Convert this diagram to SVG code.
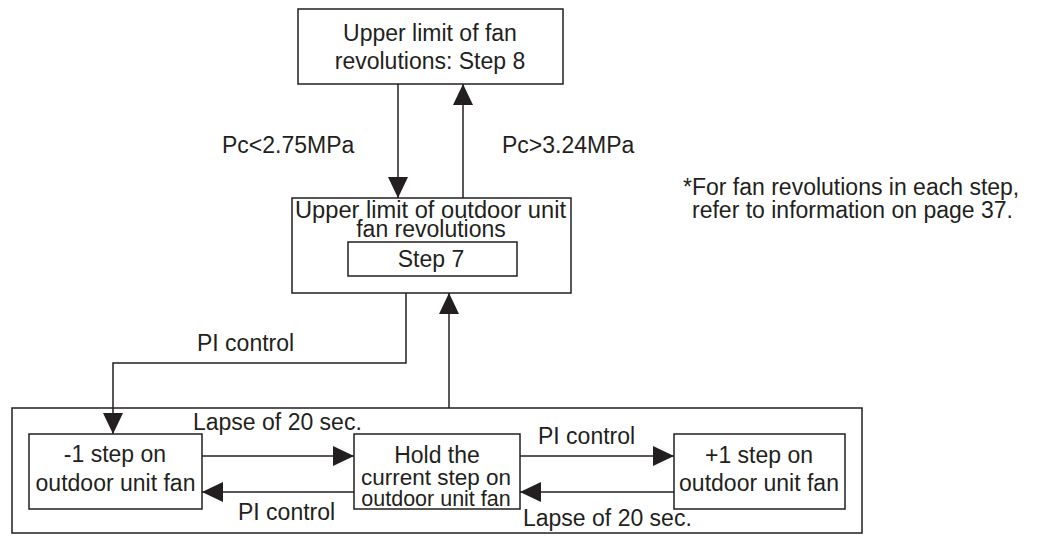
<svg xmlns="http://www.w3.org/2000/svg" width="1043" height="536" viewBox="0 0 1043 536">
<style>
.box{fill:#fff;stroke:#231f20;stroke-width:1.5}
.ln{fill:none;stroke:#231f20;stroke-width:1.5}
text{font-family:"Liberation Sans",Arial,sans-serif;font-size:23px;fill:#231f20}
.c{text-anchor:middle}
</style>
<defs>
<marker id="ah" markerUnits="userSpaceOnUse" markerWidth="21" markerHeight="20" refX="21" refY="10" orient="auto">
<path d="M0,0 L21,10 L0,20 z" fill="#231f20"/>
</marker>
</defs>
<rect width="1043" height="536" fill="#fff"/>
<g id="outer">
<rect class="box" x="12" y="408" width="850" height="125"/>
</g>
<g id="top">
<rect class="box" x="298" y="9" width="265" height="75"/>
<text class="c" x="430" y="41">Upper limit of fan</text>
<text class="c" x="430" y="69">revolutions: Step 8</text>
</g>
<g id="middle">
<rect class="box" x="292" y="198" width="279" height="95"/>
<text x="295" y="218" textLength="271" lengthAdjust="spacingAndGlyphs">Upper limit of outdoor unit</text>
<text class="c" x="431" y="237">fan revolutions</text>
<rect class="box" x="348" y="242" width="169" height="34"/>
<text class="c" x="431" y="267">Step 7</text>
</g>
<g id="minus">
<rect class="box" x="29" y="434" width="173" height="75"/>
<text class="c" x="115" y="462">-1 step on</text>
<text class="c" x="115.5" y="491">outdoor unit fan</text>
</g>
<g id="hold">
<rect class="box" x="354" y="434" width="166" height="75"/>
<text class="c" x="437" y="463">Hold the</text>
<text class="c" x="436" y="485" style="font-size:22.5px">current step on</text>
<text class="c" x="436" y="506" style="font-size:21.5px">outdoor unit fan</text>
</g>
<g id="plus">
<rect class="box" x="674" y="434" width="171" height="75"/>
<text class="c" x="759" y="463">+1 step on</text>
<text class="c" x="759" y="491">outdoor unit fan</text>
</g>
<g id="note">
<text x="683" y="195">*For fan revolutions in each step,</text>
<text x="692" y="218">refer to information on page 37.</text>
</g>
<g id="connectors">
<path class="ln" d="M398,84 V198" marker-end="url(#ah)"/>
<path class="ln" d="M463,198 V84" marker-end="url(#ah)"/>
<path class="ln" d="M406,293 V363 H113 V434" marker-end="url(#ah)"/>
<path class="ln" d="M449,408 V293" marker-end="url(#ah)"/>
<path class="ln" d="M202,456 H354" marker-end="url(#ah)"/>
<path class="ln" d="M354,492 H202" marker-end="url(#ah)"/>
<path class="ln" d="M520,456 H674" marker-end="url(#ah)"/>
<path class="ln" d="M674,492 H520" marker-end="url(#ah)"/>
<text x="222" y="153">Pc&lt;2.75MPa</text>
<text x="502" y="153">Pc&gt;3.24MPa</text>
<text x="197" y="351">PI control</text>
<text x="193" y="430">Lapse of 20 sec.</text>
<text x="238" y="520">PI control</text>
<text x="538" y="444">PI control</text>
<text x="523" y="526">Lapse of 20 sec.</text>
</g>
</svg>
